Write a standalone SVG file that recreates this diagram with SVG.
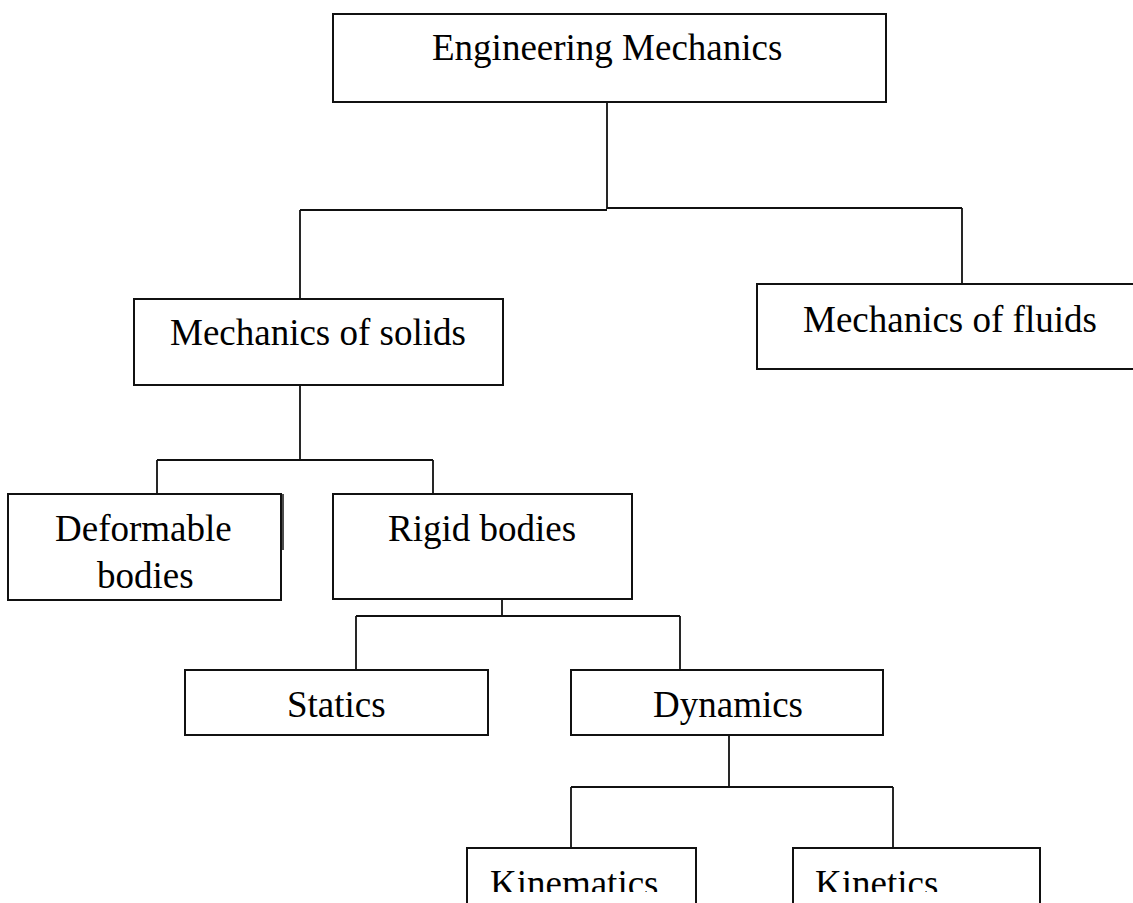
<svg xmlns="http://www.w3.org/2000/svg" width="1133" height="903" viewBox="0 0 1133 903">
<style>
.box{fill:#fff;stroke:#111;stroke-width:2}
.lbl{font-family:"Liberation Serif","Times New Roman",serif;font-size:37px;fill:#000}
.con{fill:none;stroke:#111;stroke-width:1.8}
</style>
<defs>
<clipPath id="cut"><rect x="0" y="0" width="1133" height="892"/></clipPath>
</defs>
<rect x="0" y="0" width="1133" height="903" fill="#fff"/>
<g id="connectors">
<path class="con" d="M607 102 V209 M300 210 H607 M607 208 H962 M300 210 V299 M962 208 V284"/>
<path class="con" d="M300 385 V460 M157 460 H433 M157 460 V494 M433 460 V494"/>
<path class="con" d="M502 599 V616 M356 616 H680 M356 616 V670 M680 616 V670"/>
<path class="con" d="M729 735 V787 M571 787 H893 M571 787 V848 M893 787 V848"/>
</g>
<g id="engineering-mechanics">
<rect class="box" x="333" y="14" width="553" height="88"/>
<text class="lbl" x="432" y="60">Engineering Mechanics</text>
</g>
<g id="mechanics-of-solids">
<rect class="box" x="134" y="299" width="369" height="86"/>
<text class="lbl" x="170" y="345">Mechanics of solids</text>
</g>
<g id="mechanics-of-fluids">
<rect class="box" x="757" y="284" width="390" height="85"/>
<text class="lbl" x="803" y="332">Mechanics of fluids</text>
</g>
<g id="deformable-bodies">
<rect class="box" x="8" y="494" width="273" height="106"/>
<line x1="283" y1="494" x2="283" y2="550" stroke="#111" stroke-width="1.5"/>
<text class="lbl" x="55" y="541">Deformable</text>
<text class="lbl" x="97" y="588">bodies</text>
</g>
<g id="rigid-bodies">
<rect class="box" x="333" y="494" width="299" height="105"/>
<text class="lbl" x="388" y="541">Rigid bodies</text>
</g>
<g id="statics">
<rect class="box" x="185" y="670" width="303" height="65"/>
<text class="lbl" x="287" y="717">Statics</text>
</g>
<g id="dynamics">
<rect class="box" x="571" y="670" width="312" height="65"/>
<text class="lbl" x="653" y="717">Dynamics</text>
</g>
<g id="kinematics">
<rect class="box" x="467" y="848" width="229" height="70"/>
<text class="lbl" x="490" y="896" clip-path="url(#cut)">Kinematics</text>
</g>
<g id="kinetics">
<rect class="box" x="793" y="848" width="247" height="70"/>
<text class="lbl" x="815" y="896" clip-path="url(#cut)">Kinetics</text>
</g>
</svg>
